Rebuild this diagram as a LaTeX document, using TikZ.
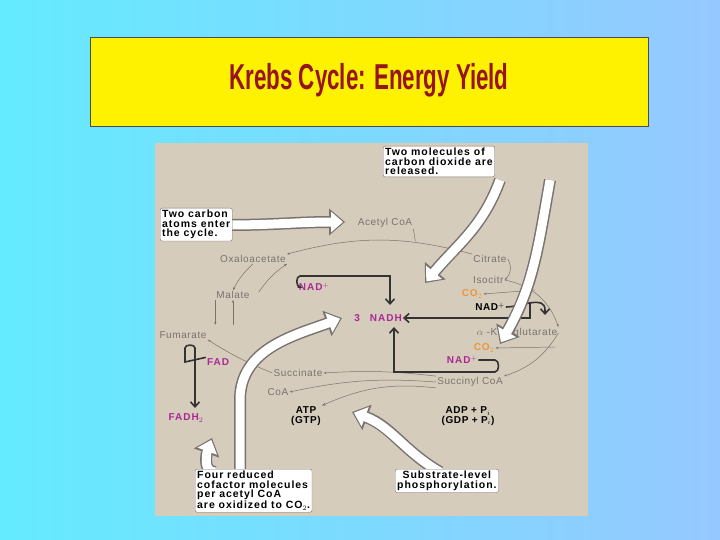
\documentclass[tikz,border=0pt]{standalone}
\usepackage{fontspec}
\setmainfont{Liberation Sans}
\usetikzlibrary{arrows.meta}
\definecolor{bgL}{RGB}{100,235,255}
\definecolor{bgR}{RGB}{150,200,255}
\definecolor{tan}{RGB}{214,204,188}
\definecolor{ttl}{RGB}{150,20,30}
\definecolor{mag}{RGB}{170,40,150}
\definecolor{org}{RGB}{235,150,60}
\definecolor{gr}{RGB}{120,115,110}
\tikzset{x=1pt,y=-1pt,
 lbl/.style={font=\fontsize{10}{11}\selectfont\addfontfeature{LetterSpace=6},text=gr,inner sep=1pt},
 mg/.style={font=\bfseries\fontsize{10}{11}\selectfont\addfontfeature{LetterSpace=10},text=mag,inner sep=1pt},
 bk/.style={font=\bfseries\fontsize{10}{9.5}\selectfont\addfontfeature{LetterSpace=6},text=black,inner sep=1pt,align=center},
 co/.style={font=\bfseries\fontsize{10}{11}\selectfont\addfontfeature{LetterSpace=10},text=org,inner sep=1pt},
 callout/.style={draw=gr,fill=white,font=\bfseries\fontsize{10.5}{9.5}\selectfont\addfontfeature{LetterSpace=9},align=left,inner sep=2pt,rounded corners=2pt},
 thin/.style={gr,line width=0.5pt,-{Stealth[length=3pt]}},
 thick/.style={black!80,line width=1.6pt,-{Straight Barb[length=5pt,width=9pt]}},
}
\newcommand{\bigarrow}[1]{%
 \draw[gr,line width=12pt,-{Triangle[length=16pt,width=26pt]}] #1;
 \draw[white,line width=9pt,shorten >=2pt,-{Triangle[length=12pt,width=20pt]}] #1;}
\begin{document}
\begin{tikzpicture}
\useasboundingbox (0,0) rectangle (720,540);
\shade[left color=bgL,right color=bgR] (0,0) rectangle (720,540);
\node[draw=black!70,fill=yellow,minimum width=558pt,minimum height=89pt,anchor=north west] (title) at (90,37) {};
\node[text=ttl,font=\bfseries\fontsize{36}{38}\selectfont] (tt) at (369,80) {\scalebox{0.62}[1]{Krebs Cycle: Energy Yield}};
\fill[tan] (155,143) rectangle (588,516);
% labels
\node[lbl] (acetyl) at (385,223) {Acetyl CoA};
\node[lbl] (oxa) at (253,259) {Oxaloacetate};
\node[lbl] (cit) at (490,259) {Citrate};
\node[lbl,anchor=west] (iso) at (472,280) {Isocitr};
\node[co] (co2a) at (472,294) {CO$_2$};
\node[bk] (nadr) at (490,307) {NAD$^+$};
\node[mg] (nadh) at (378,318) {3\quad NADH};
\node[lbl] (akg) at (517,333) {$\alpha$ -Ketoglutarate};
\node[co] (co2b) at (484,348) {CO$_2$};
\node[mg] (nadb) at (462,360) {NAD$^+$};
\node[lbl] (succoa) at (470,382) {Succinyl CoA};
\node[lbl] (succ) at (298,373) {Succinate};
\node[lbl] (coa) at (278,392) {CoA};
\node[mg] (fad) at (218,362) {FAD};
\node[lbl] (fum) at (183,335) {Fumarate};
\node[lbl] (mal) at (233,295) {Malate};
\node[mg] (nadl) at (314,287) {NAD$^+$};
\node[mg] (fadh) at (186,418) {FADH$_2$};
\node[bk] (atp) at (306,416) {ATP\\(GTP)};
\node[bk] (adp) at (468,416) {ADP + P$_i$\\(GDP + P$_i$)};
% thin cycle
\draw[thin] (cit.north west) to[bend right=15] (oxa.north east);
\draw[gr,line width=0.5pt] (acetyl.south east) -- ++(2,12);
\draw[thin] (oxa.south) to[bend right=10] (mal.north);
\draw[thin] (mal.north east) ++(8,2) to[bend left=10] (oxa.south east);
\draw[thin] (cit.east) to[bend left=40] (iso.east);
\draw[thin] (iso.east) to[bend left=30] (akg.north east);
\draw[thin] (akg.east) to[bend left=20] (succoa.north east);
\draw[thin] (succoa.north west) to[bend right=5] (succ.east);
\draw[thin] (succ.west) to[bend left=5] (fum.south east);
\draw[thin] (mal.south west) -- ++(0,25);
\draw[thin] (mal.south) ++(0,25) -- (mal.south);
\draw[thin] (535,290) -- (co2a.east);
\draw[thin] (555,347) -- (co2b.east);
\draw[thin] (succoa.west) to[bend right=8] (coa.east);
\draw[thin,-{Stealth[length=4pt]}] (succoa.south west) to[bend right=15] (atp.north east);
% thick NAD lines
\draw[thick] (nadl.west) -- (300,287) to[out=180,in=180] (300,276) -- (390,276) -- (390,305);
\draw[thick] (nadr.east) to[out=0,in=90] (545,310) -- ++(0,5);
\draw[thick] (530,302) -- (530,318) -- (nadh.east);
\draw[thick] (nadb.east) -- (495,360) to[out=0,in=0] (495,372) -- (394,372) -- (394,327);
\draw[thick] (fad.north west) -- (185,362) -- (185,348) to[out=90,in=90] (195,348) -- (195,408);
% big arrows
\bigarrow{(500,180) to[out=250,in=50] (425,283)}
\bigarrow{(550,180) to[out=260,in=60] (500,344)}
\bigarrow{(228,225) to[out=0,in=180] (345,222)}
\bigarrow{(240,472) -- (240,400) to[out=90,in=200] (342,318)}
\bigarrow{(215,472) to[out=180,in=-110] (212,438)}
\bigarrow{(440,472) to[out=150,in=-20] (352,412)}
% callouts
\node[callout,anchor=north west] (c1) at (383,146) {Two molecules of\\carbon dioxide are\\released.};
\node[callout,anchor=north west] (c2) at (160,208) {Two carbon\\atoms enter\\the cycle.};
\node[callout,anchor=north west] (c3) at (195,469) {Four reduced\\cofactor molecules\\per acetyl CoA\\are oxidized to CO$_2$.};
\node[callout,anchor=north west,align=center] (c4) at (395,469) {Substrate-level\\phosphorylation.};
\end{tikzpicture}
\end{document}
